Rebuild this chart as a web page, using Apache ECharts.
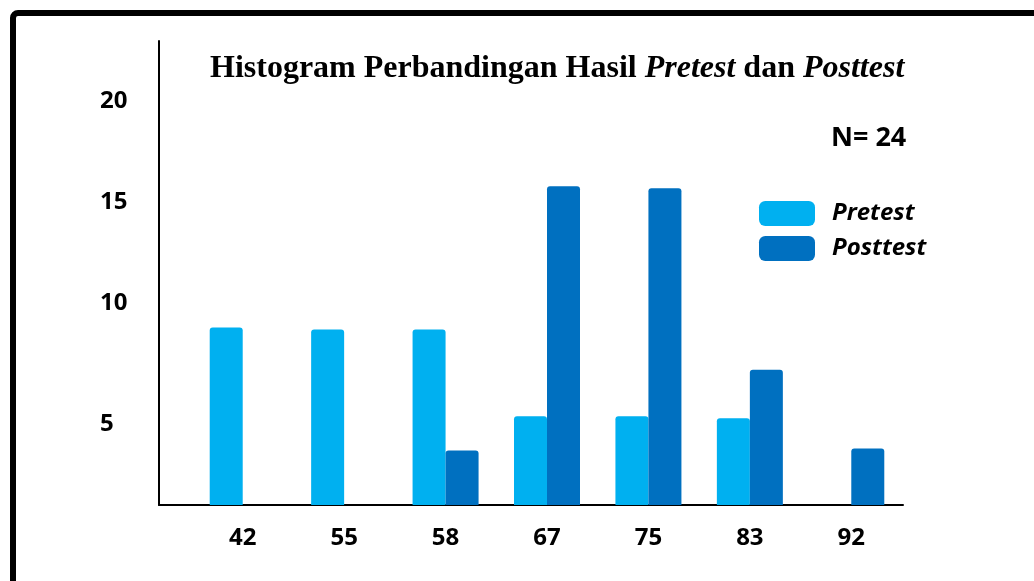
<!DOCTYPE html>
<html>
<head>
<meta charset="utf-8">
<script src="https://cdn.jsdelivr.net/npm/echarts@6/dist/echarts.min.js"></script>
<style>
  html, body { margin: 0; padding: 0; background: #fff; }
  #main { width: 1034px; height: 581px; }
</style>
</head>
<body>
<div id="main"></div>
<script>
// nilai (skor) dan frekuensi
var categories = ['42', '55', '58', '67', '75', '83', '92'];
var pretest  = [8.8, 8.7, 8.7, 4.4, 4.4, 4.3, 0];
var posttest = [0, 0, 2.7, 15.8, 15.7, 6.7, 2.8];
var yTicks = [5, 10, 15, 20];

var colPre = '#00B0F0';
var colPost = '#0070C0';
var sans = '"Open Sans", "Liberation Sans", sans-serif';
var serif = '"Liberation Serif", "DejaVu Serif", serif';

var myChart = echarts.init(document.getElementById('main'));

var option = {
    backgroundColor: '#fff',
    animation: false,
    title: [
        {
            left: 205,
            top: 48,
            text: '{b|Histogram Perbandingan Hasil }{i|Pretest}{b| dan }{i|Posttest}',
            textStyle: {
                rich: {
                    b: { fontFamily: serif, fontSize: 32, fontWeight: 'bold', color: '#000' },
                    i: { fontFamily: serif, fontSize: 32, fontWeight: 'bold', fontStyle: 'italic', color: '#000' }
                }
            }
        },
        {
            left: 826,
            top: 120,
            text: 'N= 24',
            textStyle: { fontFamily: sans, fontSize: 27, fontWeight: 'bold', color: '#000' }
        }
    ],
    legend: {
        orient: 'vertical',
        left: 759,
        top: 201,
        padding: 0,
        itemWidth: 56,
        itemHeight: 25,
        itemGap: 10,
        icon: 'roundRect',
        textStyle: {
            fontFamily: sans, fontSize: 24, fontWeight: 'bold', fontStyle: 'italic',
            color: '#000', padding: [0, 0, 0, 12]
        },
        data: ['Pretest', 'Posttest']
    },
    // grid 0: garis sumbu, grid 1: batang
    grid: [
        { left: 159, right: 131, top: 41, bottom: 76 },
        { left: 192, right: 132, top: 41, bottom: 76 }
    ],
    xAxis: [
        {
            gridIndex: 0, type: 'value', min: 0, max: 1,
            axisLine: { show: true, lineStyle: { color: '#000', width: 2 } },
            axisTick: { show: false }, axisLabel: { show: false }, splitLine: { show: false }
        },
        {
            gridIndex: 1, type: 'category', data: categories,
            axisLine: { show: false }, axisTick: { show: false }, splitLine: { show: false },
            axisLabel: { margin: 21, fontFamily: sans, fontSize: 24, fontWeight: 'bold', color: '#000' }
        }
    ],
    yAxis: [
        {
            gridIndex: 0, type: 'value', min: 0, max: 23, interval: 5,
            axisLine: { show: true, lineStyle: { color: '#000', width: 2 } },
            axisTick: { show: false }, splitLine: { show: false },
            axisLabel: {
                align: 'left', margin: 59,
                fontFamily: sans, fontSize: 24, fontWeight: 'bold', color: '#000',
                formatter: function (v) {
                    if (yTicks.indexOf(v) < 0) return '';
                    if (v === 5) return '{d|5}';
                    return String(v);
                },
                rich: {
                    d: { fontFamily: sans, fontSize: 24, fontWeight: 'bold', color: '#000', padding: [40, 0, 0, 0] }
                }
            }
        },
        {
            gridIndex: 1, type: 'value', min: 0, max: 23,
            show: false, splitLine: { show: false }
        }
    ],
    series: [
        {
            name: 'Pretest', type: 'bar', xAxisIndex: 1, yAxisIndex: 1,
            barWidth: 33, barGap: '0%',
            itemStyle: { color: colPre, borderRadius: [3, 3, 0, 0] },
            data: pretest
        },
        {
            name: 'Posttest', type: 'bar', xAxisIndex: 1, yAxisIndex: 1,
            barWidth: 33, barGap: '0%',
            itemStyle: { color: colPost, borderRadius: [3, 3, 0, 0] },
            data: posttest
        }
    ],
    graphic: [
        {
            type: 'rect', silent: true, z: 100,
            shape: { x: 13, y: 13, width: 1100, height: 700, r: 5 },
            style: { fill: 'none', stroke: '#000', lineWidth: 6 }
        }
    ]
};

myChart.setOption(option);
</script>
</body>
</html>
